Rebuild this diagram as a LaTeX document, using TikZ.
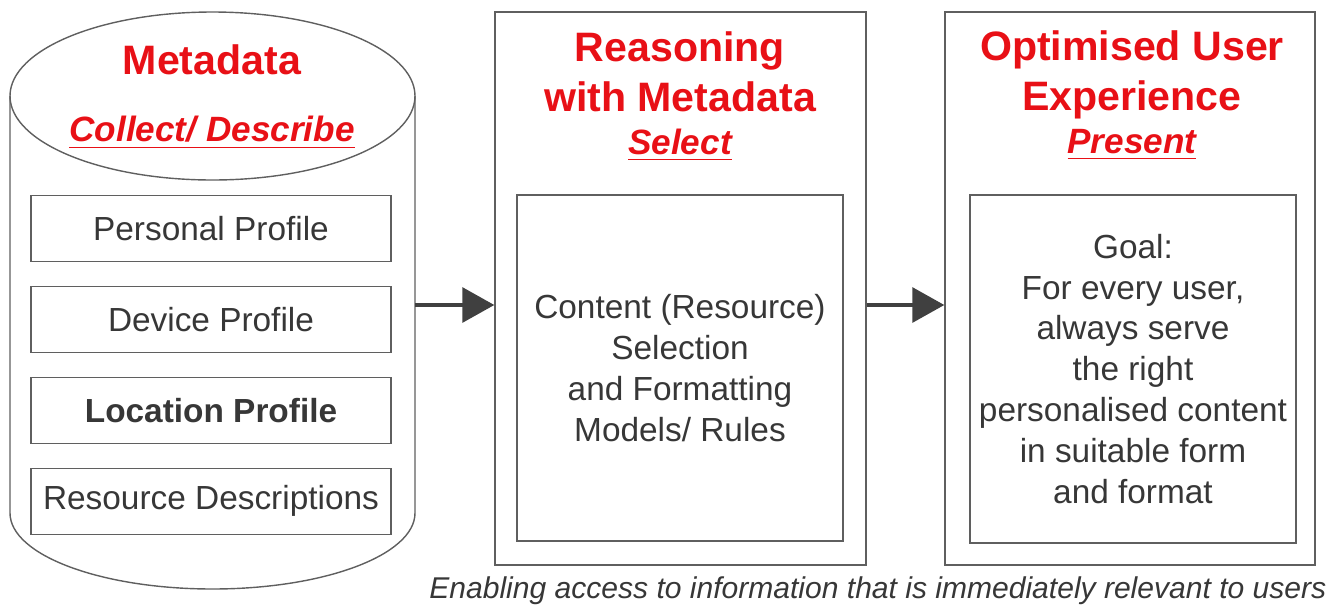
\documentclass[tikz,border=0pt]{standalone}
\usepackage{fontspec}
\setmainfont{Liberation Sans}
\usetikzlibrary{positioning,arrows.meta}
\definecolor{titlered}{RGB}{232,16,22}
\definecolor{textgrey}{RGB}{55,55,55}
\definecolor{linegrey}{RGB}{95,95,95}
\definecolor{arrowgrey}{RGB}{64,64,64}
\tikzset{
  profile/.style={draw=linegrey, minimum width=3.6cm, minimum height=0.66cm, inner sep=0pt, text=textgrey, font=\fontsize{9.5}{11.7}\selectfont},
  panel/.style={draw=linegrey, minimum width=3.71cm, minimum height=5.53cm, inner sep=0pt},
  inner panel/.style={draw=linegrey, minimum width=3.26cm, minimum height=3.46cm, inner sep=0pt, align=center, text=textgrey, font=\fontsize{9.5}{11.65}\selectfont},
  heading/.style={text=titlered, font=\fontsize{11.7}{14.2}\selectfont\bfseries, align=center, inner sep=0pt},
  task/.style={text=titlered, font=\fontsize{10}{12}\selectfont\bfseries\itshape, inner sep=0pt},
  flow/.style={-{Triangle[length=0.32cm,width=0.35cm]}, line width=0.9pt, draw=arrowgrey, fill=arrowgrey}
}
\begin{document}
\begin{tikzpicture}[line width=0.4pt]
    \useasboundingbox (0, 0) rectangle (13.3, 6.05);
    \draw[linegrey] (0.1, 5.09) -- (0.1, 0.92) arc[start angle=180, end angle=360, x radius=2.025, y radius=0.76] -- (4.15, 5.09);
    \draw[linegrey] (2.125, 5.09) ellipse [x radius=2.025, y radius=0.84];
    \coordinate (cylR) at (4.15, 3.0);

    \node[heading] (metaT) at (2.12, 5.45) {Metadata};
    \node[task] (metaS) at (2.12, 4.72) {\underline{Collect/ Describe}};
    \node[profile] (personal) at (2.11, 3.765) {Personal Profile};
    \node[profile, below=0.235cm of personal] (device) {Device Profile};
    \node[profile, below=0.235cm of device, font=\fontsize{9.5}{11.7}\selectfont\bfseries] (location) {Location Profile};
    \node[profile, below=0.235cm of location] (resource) {Resource Descriptions};

    \node[panel] (reason) at (6.805, 3.165) {};
    \node[heading] (reasonT) at (6.80, 5.33) {Reasoning\\with Metadata};
    \node[task] (reasonS) at (6.80, 4.60) {\underline{Select}};
    \node[inner panel] (rules) at (6.80, 2.37) {Content (Resource)\\Selection\\and Formatting\\Models/ Rules};

    \node[panel, minimum width=3.70cm] (optim) at (11.30, 3.165) {};
    \node[heading] (optimT) at (11.32, 5.30) {Optimised User\\Experience};
    \node[task] (optimS) at (11.32, 4.60) {\underline{Present}};
    \node[inner panel, minimum height=3.48cm] (goal) at (11.33, 2.36) {Goal:\\For every user,\\always serve\\the right\\personalised content\\in suitable form\\and format};

    \draw[flow] (cylR) -- (reason.west |- cylR);
    \draw[flow] (reason.east |- cylR) -- (optim.west |- cylR);

    \node[anchor=east, text=textgrey, font=\fontsize{8.55}{10.5}\selectfont\itshape, inner sep=0pt] (enable) at (13.27, 0.14) {Enabling access to information that is immediately relevant to users};
\end{tikzpicture}
\end{document}
